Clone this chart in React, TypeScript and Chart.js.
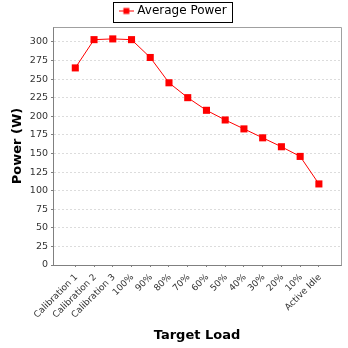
import { useEffect, useRef } from 'react';
import { Chart, registerables } from 'chart.js';

Chart.register(...registerables);

const categories = [
  'Calibration 1', 'Calibration 2', 'Calibration 3', '100%', '90%', '80%', '70%',
  '60%', '50%', '40%', '30%', '20%', '10%', 'Active Idle',
];
const averagePower = [265, 303, 304, 303, 279, 245, 225, 208, 195, 183, 171, 159, 146, 109];
const yTickValues = [0, 25, 50, 75, 100, 125, 150, 175, 200, 225, 250, 275, 300];
const seriesName = 'Average Power';
const yTitle = 'Power (W)';
const xTitle = 'Target Load';

const FONT = 'DejaVu Sans';

export default function App() {
  const ref = useRef<HTMLCanvasElement>(null);

  useEffect(() => {
    if (!ref.current) return;

    const icon = document.createElement('canvas');
    icon.width = 15;
    icon.height = 9;
    const ictx = icon.getContext('2d')!;
    ictx.strokeStyle = '#ff0000';
    ictx.lineWidth = 1;
    ictx.beginPath();
    ictx.moveTo(0, 4.5);
    ictx.lineTo(15, 4.5);
    ictx.stroke();
    ictx.fillStyle = '#ff0000';
    ictx.fillRect(4.5, 1.5, 6, 6);

    const framePlugin = {
      id: 'frame',
      afterDraw(chart: any) {
        const { ctx, chartArea } = chart;
        ctx.save();
        ctx.strokeStyle = '#a0a0a0';
        ctx.lineWidth = 1;
        ctx.beginPath();
        ctx.moveTo(Math.round(chartArea.left) + 0.5, Math.round(chartArea.top) + 0.5);
        ctx.lineTo(Math.round(chartArea.right) + 0.5, Math.round(chartArea.top) + 0.5);
        ctx.lineTo(Math.round(chartArea.right) + 0.5, Math.round(chartArea.bottom) + 0.5);
        ctx.stroke();
        const lg = chart.legend;
        if (lg && lg.legendHitBoxes && lg.legendHitBoxes[0]) {
          const hb = lg.legendHitBoxes[0];
          ctx.strokeStyle = '#000000';
          ctx.strokeRect(Math.round(hb.left - 8) + 0.5, Math.round(hb.top - 3) + 0.5,
            Math.round(hb.width + 14), 20);
        }
        ctx.restore();
      },
    };

    const chart = new Chart(ref.current, {
      type: 'line',
      data: {
        datasets: [
          {
            label: seriesName,
            data: averagePower.map((v, i) => ({ x: i, y: v })),
            borderColor: '#ff0000',
            backgroundColor: '#ff0000',
            borderWidth: 1,
            pointStyle: 'rect',
            pointRadius: 5,
            pointBorderWidth: 0,
            pointBackgroundColor: '#ff0000',
            tension: 0,
          },
        ],
      },
      options: {
        animation: false,
        responsive: false,
        devicePixelRatio: 1,
        layout: { padding: { left: 7, right: 7, top: -1, bottom: 0 } },
        plugins: {
          legend: {
            display: true,
            position: 'top',
            labels: {
              usePointStyle: true,
              pointStyle: icon as any,
              pointStyleWidth: 10,
              color: '#000000',
              font: { family: FONT, size: 12 },
              padding: 6,
              generateLabels: () => [
                {
                  text: seriesName,
                  pointStyle: icon,
                  fillStyle: '#ff0000',
                  strokeStyle: '#ff0000',
                  lineWidth: 0,
                  datasetIndex: 0,
                  hidden: false,
                  fontColor: '#000000',
                },
              ],
            },
          },
          tooltip: { enabled: false },
        },
        scales: {
          x: {
            type: 'linear',
            min: -1.19,
            max: 14.18,
            afterBuildTicks: (scale: any) => {
              scale.ticks = categories.map((_, i) => ({ value: i }));
            },
            afterFit: (scale: any) => {
              scale.height = 83;
            },
            ticks: {
              autoSkip: false,
              minRotation: 45,
              maxRotation: 45,
              padding: 5,
              labelOffset: 1,
              color: '#333333',
              font: { family: FONT, size: 9 },
              callback: (_v: any, i: number) => categories[i],
            },
            grid: {
              drawOnChartArea: false,
              drawTicks: true,
              tickLength: 2,
              tickColor: '#808080',
            },
            border: { display: true, color: '#808080', width: 1 },
            title: {
              display: true,
              text: xTitle,
              color: '#000000',
              font: { family: FONT, size: 13, weight: 'bold' },
              padding: { top: 4, bottom: 5 },
            },
          },
          y: {
            type: 'linear',
            min: 0,
            max: 320,
            afterBuildTicks: (scale: any) => {
              scale.ticks = yTickValues.map((v) => ({ value: v }));
            },
            afterFit: (scale: any) => {
              scale.width = 46;
            },
            ticks: {
              padding: 3,
              color: '#333333',
              font: { family: FONT, size: 9.5 },
            },
            grid: {
              display: true,
              color: '#dcdcdc',
              drawTicks: true,
              tickLength: 2,
              tickColor: '#808080',
              tickBorderDash: [],
            },
            border: { display: true, color: '#808080', width: 1, dash: [2, 2] },
            title: {
              display: true,
              text: yTitle,
              color: '#000000',
              font: { family: FONT, size: 13, weight: 'bold' },
              padding: { top: 3, bottom: 0 },
            },
          },
        },
      },
      plugins: [framePlugin],
    } as any);

    return () => chart.destroy();
  }, []);

  return (
    <div style={{ position: 'fixed', left: 0, top: 0, width: 348, height: 348, background: '#ffffff' }}>
      <canvas ref={ref} width={348} height={348} style={{ width: 348, height: 348, display: 'block' }} />
    </div>
  );
}
